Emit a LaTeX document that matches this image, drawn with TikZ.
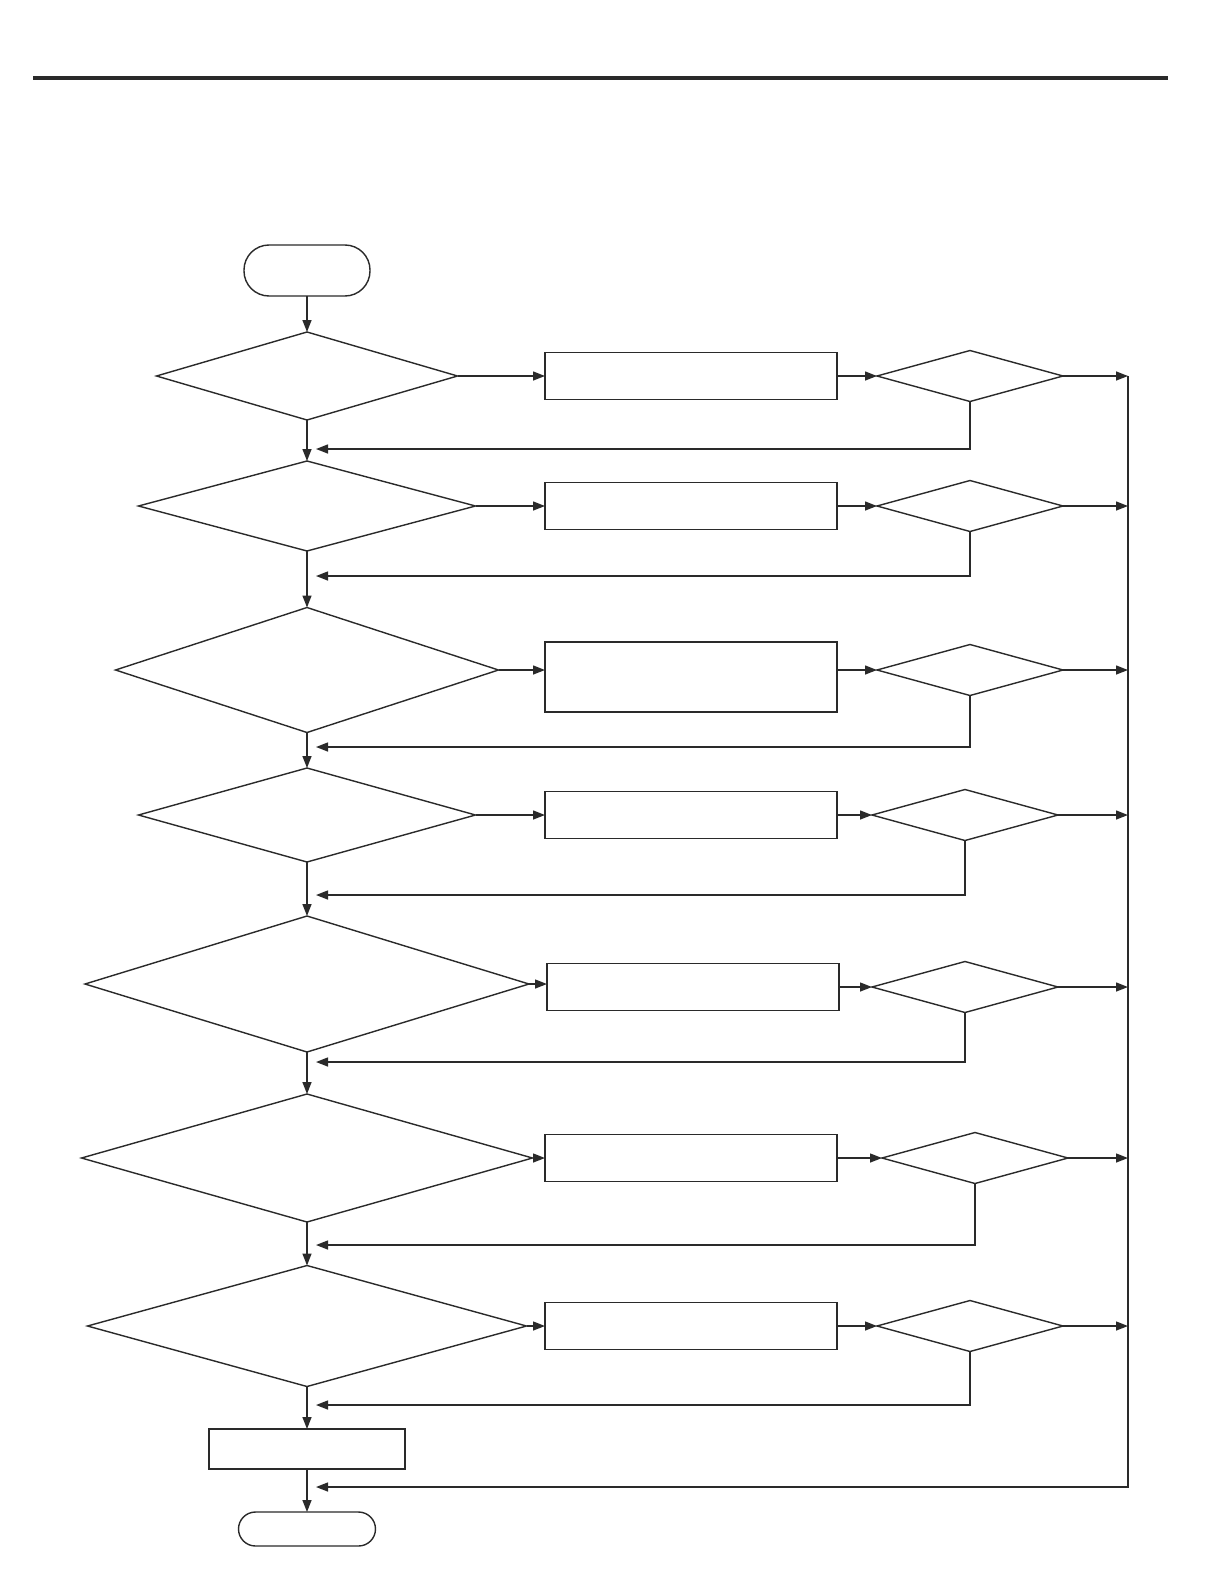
\documentclass[tikz,border=0pt]{standalone}
\usepackage{tikz}
\usetikzlibrary{arrows.meta, positioning, calc, shapes.geometric}
\usepackage{xcolor}
\definecolor{linegray}{HTML}{2A2A2A}

\begin{document}
\begin{tikzpicture}[
    line width=0.8pt, draw=linegray,
    term/.style={rectangle, draw=linegray, minimum width=2.52cm, minimum height=1.02cm, rounded corners=0.5cm, inner sep=0pt, outer sep=0pt},
    cond/.style={diamond, draw=linegray, inner sep=0pt, outer sep=0pt},
    test/.style={diamond, draw=linegray, minimum width=3.72cm, minimum height=1.02cm, inner sep=0pt, outer sep=0pt},
    box/.style={rectangle, draw=linegray, minimum width=5.84cm, minimum height=0.94cm, inner sep=0pt, outer sep=0pt},
    arrow/.style={-{Triangle[length=2.4mm, width=1.8mm]}, linegray},
]
\useasboundingbox (0,0) rectangle (24.26,-31.66);

% Header rule
\draw[line width=2.3pt, draw=linegray] (0.66,-1.56) -- (23.36,-1.56);

% Start
\node[term] (start) at (6.14,-5.41) {};

% Main column of conditions
\node[cond, minimum width=6.02cm, minimum height=1.76cm] (c1) at (6.14,-7.52) {};
\node[cond, minimum width=6.74cm, minimum height=1.80cm] (c2) at (6.14,-10.12) {};
\node[cond, minimum width=7.66cm, minimum height=2.50cm] (c3) at (6.14,-13.40) {};
\node[cond, minimum width=6.74cm, minimum height=1.88cm] (c4) at (6.14,-16.30) {};
\node[cond, minimum width=8.88cm, minimum height=2.72cm] (c5) at (6.14,-19.68) {};
\node[cond, minimum width=9.02cm, minimum height=2.56cm] (c6) at (6.14,-23.16) {};
\node[cond, minimum width=8.78cm, minimum height=2.42cm] (c7) at (6.14,-26.52) {};

\node[box, minimum width=3.92cm, minimum height=0.80cm] (final) at (6.14,-28.98) {};
\node[term, minimum width=2.74cm, minimum height=0.68cm, rounded corners=0.34cm] (stop) at (6.14,-30.58) {};

% Action boxes
\node[box] (a1) at (13.82,-7.52) {};
\node[box] (a2) at (13.82,-10.12) {};
\node[box, minimum height=1.40cm] (a3) at (13.82,-13.54) {};
\node[box] (a4) at (13.82,-16.30) {};
\node[box] (a5) at (13.86,-19.74) {};
\node[box] (a6) at (13.82,-23.16) {};
\node[box] (a7) at (13.82,-26.52) {};

% Checks
\node[test] (t1) at (19.40,-7.52) {};
\node[test] (t2) at (19.40,-10.12) {};
\node[test] (t3) at (19.40,-13.40) {};
\node[test] (t4) at (19.30,-16.30) {};
\node[test] (t5) at (19.30,-19.74) {};
\node[test] (t6) at (19.50,-23.16) {};
\node[test] (t7) at (19.40,-26.52) {};

% Right collector line
\coordinate (rtop) at (22.56,-7.52);
\coordinate (rbot) at (22.56,-29.74);

% Loop-back ends
\coordinate (r1) at (6.32,-8.98);
\coordinate (r2) at (6.32,-11.52);
\coordinate (r3) at (6.32,-14.94);
\coordinate (r4) at (6.32,-17.90);
\coordinate (r5) at (6.32,-21.24);
\coordinate (r6) at (6.32,-24.90);
\coordinate (r7) at (6.32,-28.10);
\coordinate (r8) at (6.32,-29.74);

% Main flow
\draw[arrow] (start) -- (c1);
\draw[arrow] (c1) -- (c2);
\draw[arrow] (c2) -- (c3);
\draw[arrow] (c3) -- (c4);
\draw[arrow] (c4) -- (c5);
\draw[arrow] (c5) -- (c6);
\draw[arrow] (c6) -- (c7);
\draw[arrow] (c7) -- (final);
\draw[arrow] (final) -- (stop);

% Rows
\draw[arrow] (c1.east) -- (a1.west);
\draw[arrow] (c2.east) -- (a2.west);
\draw[arrow] (c3.east) -- (c3.east -| a3.west);
\draw[arrow] (c4.east) -- (a4.west);
\draw[arrow] (c5.east) -- (c5.east -| a5.west);
\draw[arrow] (c6.east) -- (a6.west);
\draw[arrow] (c7.east) -- (a7.west);

\draw[arrow] (a1.east) -- (t1.west);
\draw[arrow] (a2.east) -- (t2.west);
\draw[arrow] (t3.west -| a3.east) -- (t3.west);
\draw[arrow] (a4.east) -- (t4.west);
\draw[arrow] (a5.east) -- (t5.west);
\draw[arrow] (a6.east) -- (t6.west);
\draw[arrow] (a7.east) -- (t7.west);

\draw[arrow] (t1.east) -- (rtop);
\draw[arrow] (t2.east) -- (t2.east -| rtop);
\draw[arrow] (t3.east) -- (t3.east -| rtop);
\draw[arrow] (t4.east) -- (t4.east -| rtop);
\draw[arrow] (t5.east) -- (t5.east -| rtop);
\draw[arrow] (t6.east) -- (t6.east -| rtop);
\draw[arrow] (t7.east) -- (t7.east -| rtop);

% Loop-backs
\draw[arrow] (t1.south) |- (r1);
\draw[arrow] (t2.south) |- (r2);
\draw[arrow] (t3.south) |- (r3);
\draw[arrow] (t4.south) |- (r4);
\draw[arrow] (t5.south) |- (r5);
\draw[arrow] (t6.south) |- (r6);
\draw[arrow] (t7.south) |- (r7);
\draw[arrow] (rtop) -- (rbot) -- (r8);

\end{tikzpicture}
\end{document}
